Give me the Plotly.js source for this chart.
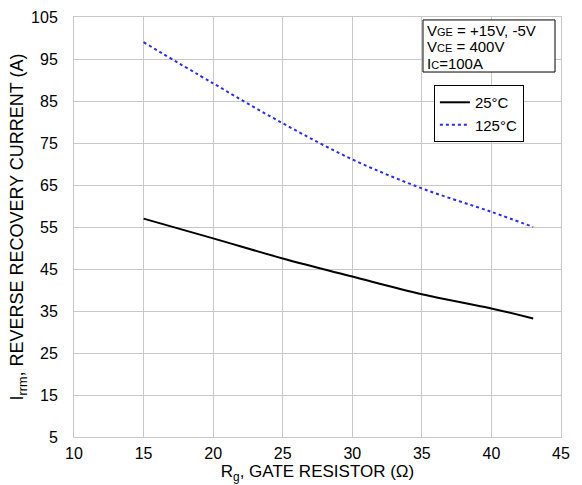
<!DOCTYPE html>
<html><head><meta charset="utf-8">
<script src="https://cdn.plot.ly/plotly-3.0.1.min.js"></script>
<style>body{margin:0;background:#fff}#c{width:582px;height:485px}</style>
</head><body><div id="c"></div>
<script>
const rg = [15, 20, 25, 30, 35, 40, 43];
const irr25 = [57.0, 52.3, 47.5, 43.2, 39.0, 35.6, 33.2];
const irr125 = [99.0, 89.2, 79.7, 71.1, 64.2, 58.6, 55.0];
const xTicks = [10, 15, 20, 25, 30, 35, 40, 45];
const yTicks = [5, 15, 25, 35, 45, 55, 65, 75, 85, 95, 105];
const condLines = [
  'V<span style="font-size:11px">GE</span> = +15V, -5V',
  'V<span style="font-size:11px">CE</span> = 400V',
  'I<span style="font-size:11px">C</span>=100A'
];

const fam = 'Liberation Sans, Arial, sans-serif';
const traces = [
  {x: rg, y: irr25, name: '25°C', mode: 'lines', line: {color: '#000', width: 2, shape: 'spline'}},
  {x: rg, y: irr125, name: '125°C', mode: 'lines', line: {color: '#2a2aff', width: 2, dash: 'dot', shape: 'spline'}}
];
const condY = [0.969, 0.929, 0.889];
const layout = {
  width: 582, height: 485,
  margin: {l: 74, r: 21, t: 17, b: 48},
  paper_bgcolor: '#fff', plot_bgcolor: '#fff',
  font: {family: fam, size: 16, color: '#000'},
  showlegend: true,
  legend: {x: 0.739, y: 0.838, xanchor: 'left', yanchor: 'top', bgcolor: '#fff',
           bordercolor: '#000', borderwidth: 1, font: {family: fam, size: 15, color: '#000'},
           itemwidth: 30, tracegroupgap: 0},
  xaxis: {range: [10, 45], tickvals: xTicks, ticktext: xTicks.map(String), showgrid: true,
          gridcolor: '#c8c8c8', gridwidth: 1, zeroline: false, showline: true, linecolor: '#c8c8c8',
          mirror: true, ticks: '', tickfont: {size: 16}, ticklabelstandoff: 2,
          title: {text: 'R<sub>g</sub>, GATE RESISTOR (Ω)', standoff: 0, font: {size: 17}}},
  yaxis: {range: [5, 105], tickvals: yTicks, ticktext: yTicks.map(String), showgrid: true,
          gridcolor: '#c8c8c8', gridwidth: 1, zeroline: false, showline: true, linecolor: '#c8c8c8',
          mirror: true, ticks: '', tickfont: {size: 16}, ticklabelstandoff: 12,
          title: {text: 'I<sub>rrm</sub>, REVERSE RECOVERY CURRENT (A)', standoff: 2, font: {size: 18}}},
  shapes: [{type: 'rect', xref: 'paper', yref: 'paper', x0: 0.7166, x1: 0.9877, y0: 0.869, y1: 0.993,
            line: {color: '#000', width: 1}, fillcolor: '#fff', layer: 'above'}],
  annotations: condLines.map((t, i) => ({
    xref: 'paper', yref: 'paper', x: 0.7207, y: condY[i], xanchor: 'left', yanchor: 'middle',
    align: 'left', showarrow: false, font: {family: fam, size: 15, color: '#000'}, text: t
  }))
};
Plotly.newPlot('c', traces, layout, {displayModeBar: false, staticPlot: true});
</script></body></html>
